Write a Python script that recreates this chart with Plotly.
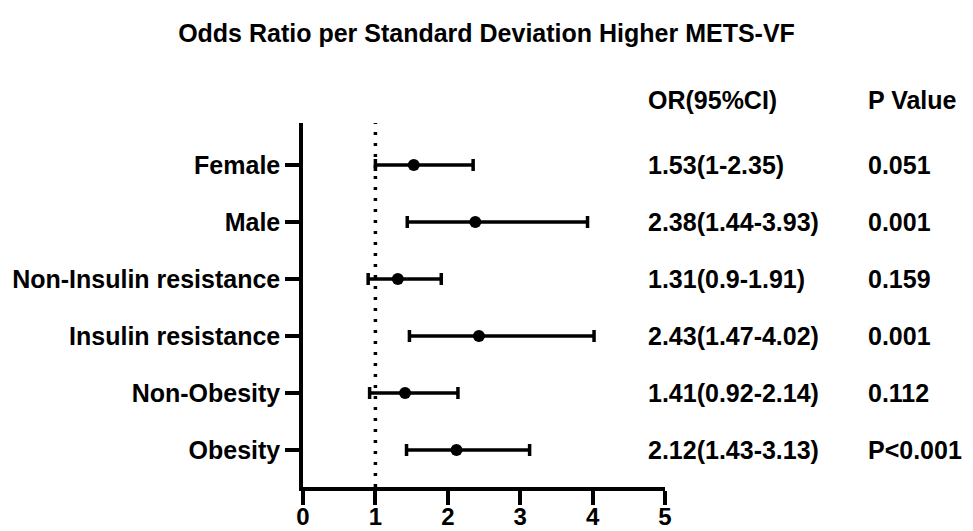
import plotly.graph_objects as go

categories = ["Female", "Male", "Non-Insulin resistance", "Insulin resistance", "Non-Obesity", "Obesity"]
or_values = [1.53, 2.38, 1.31, 2.43, 1.41, 2.12]
ci_low = [1.00, 1.44, 0.90, 1.47, 0.92, 1.43]
ci_high = [2.35, 3.93, 1.91, 4.02, 2.14, 3.13]
or_text = ["1.53(1-2.35)", "2.38(1.44-3.93)", "1.31(0.9-1.91)", "2.43(1.47-4.02)", "1.41(0.92-2.14)", "2.12(1.43-3.13)"]
p_text = ["0.051", "0.001", "0.159", "0.001", "0.112", "P<0.001"]
x_ticks = [0, 1, 2, 3, 4, 5]

FONT = "Liberation Sans, Arial, sans-serif"
FS = 25
ypos = list(range(len(categories)))

fig = go.Figure()
fig.add_trace(go.Scatter(
    x=or_values, y=ypos, mode="markers",
    marker=dict(color="black", size=12),
    error_x=dict(type="data", symmetric=False,
                 array=[h - v for h, v in zip(ci_high, or_values)],
                 arrayminus=[v - l for l, v in zip(ci_low, or_values)],
                 color="black", thickness=3.5, width=6),
    showlegend=False, cliponaxis=False,
))

fig.add_shape(type="line", xref="x", yref="paper", x0=1, x1=1, y0=0, y1=1,
              line=dict(color="black", width=3.5, dash="3px,8px"), layer="below")

tf = dict(family=FONT, size=FS, color="black", weight="bold")
xtf = dict(family=FONT, size=24, color="black", weight="bold")
ann = []
for i in range(len(categories)):
    ann.append(dict(x=0.947, xref="paper", y=ypos[i], yref="y", text=or_text[i],
                    showarrow=False, xanchor="left", yanchor="middle", font=tf))
    ann.append(dict(x=1.555, xref="paper", y=ypos[i], yref="y", text=p_text[i],
                    showarrow=False, xanchor="left", yanchor="middle", font=tf))
ann.append(dict(x=0.947, xref="paper", y=1.063, yref="paper", text="OR(95%CI)",
                showarrow=False, xanchor="left", yanchor="middle", font=tf))
ann.append(dict(x=1.555, xref="paper", y=1.063, yref="paper", text="P Value",
                showarrow=False, xanchor="left", yanchor="middle", font=tf))

fig.update_layout(
    width=973, height=531,
    margin=dict(l=303, r=308, t=123, b=44, autoexpand=False),
    paper_bgcolor="white", plot_bgcolor="white",
    font=tf,
    title=dict(text="Odds Ratio per Standard Deviation Higher METS-VF",
               x=0.5, xref="container", xanchor="center",
               y=1 - 33 / 531, yref="container", yanchor="middle",
               font=tf),
    annotations=ann,
    xaxis=dict(range=[0, 5], tickvals=x_ticks, ticktext=[str(t) for t in x_ticks],
               showgrid=False, zeroline=False, showline=True, linecolor="black",
               linewidth=3.5, ticks="outside", ticklen=14, tickwidth=3.5,
               tickcolor="black", tickfont=xtf, automargin=False,
               ticklabelstandoff=-9),
    yaxis=dict(range=[5.65, -0.737], tickvals=ypos, ticktext=categories,
               showgrid=False, zeroline=False, showline=True, linecolor="black",
               linewidth=3.5, ticks="outside", ticklen=14, tickwidth=3.5,
               tickcolor="black", tickfont=tf, automargin=False),
)

fig.write_html("out.html", config={"displayModeBar": False},
               post_script="document.body.style.margin='0';document.body.style.overflow='hidden';")
